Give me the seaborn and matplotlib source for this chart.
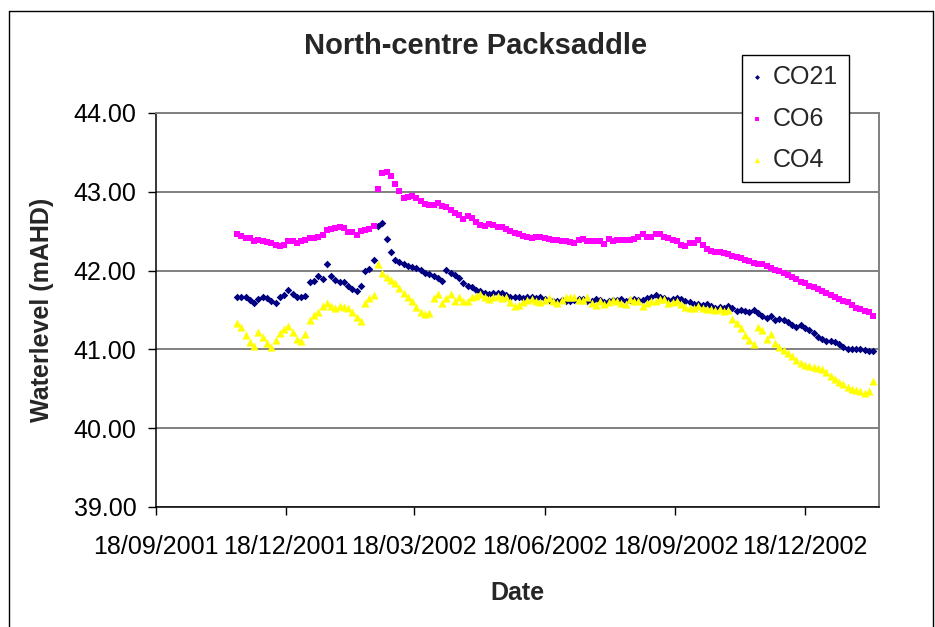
import pandas as pd
import matplotlib
matplotlib.use("Agg")
import matplotlib.pyplot as plt
import matplotlib.dates as mdates
from matplotlib.lines import Line2D
from matplotlib.ticker import FixedLocator, FormatStrFormatter
import seaborn as sns

sns.set_theme(style="white")
plt.rcParams["font.family"] = ["Liberation Sans", "DejaVu Sans"]

# Observation dates (3-day logging interval)
dates = pd.date_range("2001-11-14", periods=150, freq="3D")

co21 = [
    41.67, 41.67, 41.66, 41.63, 41.59, 41.64, 41.67, 41.65, 41.62, 41.59,
    41.67, 41.69, 41.75, 41.70, 41.67, 41.67, 41.68, 41.86, 41.87, 41.93,
    41.89, 42.08, 41.93, 41.88, 41.85, 41.85, 41.80, 41.77, 41.74, 41.80,
    42.00, 42.02, 42.13, 42.56, 42.60, 42.40, 42.24, 42.14, 42.11, 42.09,
    42.06, 42.05, 42.03, 42.01, 41.97, 41.96, 41.93, 41.91, 41.87, 42.01,
    41.97, 41.95, 41.90, 41.84, 41.81, 41.79, 41.76, 41.74, 41.72, 41.70,
    41.72, 41.72, 41.71, 41.69, 41.67, 41.66, 41.67, 41.65, 41.67, 41.66,
    41.65, 41.66, 41.64, 41.63, 41.61, 41.62, 41.63, 41.62, 41.62, 41.63,
    41.64, 41.64, 41.62, 41.61, 41.64, 41.63, 41.60, 41.61, 41.63, 41.63,
    41.64, 41.62, 41.63, 41.64, 41.63, 41.63, 41.65, 41.67, 41.69, 41.67,
    41.65, 41.63, 41.64, 41.65, 41.64, 41.62, 41.60, 41.58, 41.57, 41.56,
    41.58, 41.55, 41.53, 41.54, 41.53, 41.55, 41.52, 41.49, 41.50, 41.49,
    41.48, 41.50, 41.46, 41.42, 41.40, 41.42, 41.37, 41.38, 41.37, 41.35,
    41.31, 41.29, 41.31, 41.27, 41.24, 41.21, 41.16, 41.13, 41.11, 41.11,
    41.10, 41.07, 41.03, 41.01, 41.01, 41.00, 41.00, 40.99, 40.98, 40.98,
]

co6 = [
    42.47, 42.44, 42.42, 42.41, 42.37, 42.39, 42.37, 42.36, 42.35, 42.32,
    42.31, 42.33, 42.37, 42.37, 42.35, 42.37, 42.39, 42.41, 42.41, 42.43,
    42.45, 42.52, 42.53, 42.54, 42.55, 42.54, 42.49, 42.49, 42.45, 42.50,
    42.52, 42.53, 42.57, 43.03, 43.24, 43.25, 43.20, 43.10, 43.01, 42.92,
    42.93, 42.95, 42.92, 42.88, 42.85, 42.83, 42.83, 42.86, 42.82, 42.81,
    42.77, 42.73, 42.71, 42.66, 42.69, 42.67, 42.62, 42.58, 42.57, 42.59,
    42.58, 42.55, 42.55, 42.53, 42.50, 42.48, 42.46, 42.44, 42.43, 42.42,
    42.43, 42.43, 42.42, 42.40, 42.39, 42.39, 42.38, 42.37, 42.36, 42.35,
    42.39, 42.40, 42.38, 42.37, 42.38, 42.38, 42.34, 42.40, 42.37, 42.39,
    42.39, 42.39, 42.39, 42.40, 42.43, 42.47, 42.43, 42.43, 42.46, 42.46,
    42.43, 42.41, 42.39, 42.38, 42.33, 42.31, 42.35, 42.35, 42.39, 42.33,
    42.28, 42.25, 42.24, 42.23, 42.22, 42.21, 42.19, 42.17, 42.16, 42.14,
    42.12, 42.10, 42.09, 42.08, 42.06, 42.03, 42.01, 42.00, 41.97, 41.95,
    41.92, 41.89, 41.86, 41.84, 41.81, 41.79, 41.77, 41.74, 41.71, 41.69,
    41.67, 41.64, 41.62, 41.60, 41.56, 41.53, 41.51, 41.49, 41.47, 41.43,
]

co4 = [
    41.33, 41.29, 41.18, 41.10, 41.04, 41.22, 41.16, 41.08, 41.03, 41.12,
    41.21, 41.26, 41.30, 41.22, 41.13, 41.11, 41.20, 41.37, 41.44, 41.47,
    41.55, 41.59, 41.55, 41.53, 41.55, 41.54, 41.52, 41.48, 41.41, 41.36,
    41.59, 41.65, 41.69, 42.09, 41.97, 41.92, 41.88, 41.84, 41.78, 41.72,
    41.66, 41.61, 41.54, 41.48, 41.45, 41.46, 41.65, 41.70, 41.59, 41.65,
    41.70, 41.62, 41.66, 41.62, 41.61, 41.67, 41.68, 41.70, 41.66, 41.64,
    41.66, 41.68, 41.65, 41.66, 41.60, 41.55, 41.56, 41.60, 41.63, 41.64,
    41.62, 41.60, 41.63, 41.65, 41.62, 41.59, 41.63, 41.66, 41.67, 41.67,
    41.63, 41.63, 41.66, 41.59, 41.56, 41.61, 41.58, 41.60, 41.63, 41.62,
    41.59, 41.58, 41.64, 41.61, 41.62, 41.55, 41.59, 41.61, 41.62, 41.64,
    41.64, 41.59, 41.60, 41.61, 41.57, 41.54, 41.52, 41.53, 41.55, 41.52,
    41.51, 41.51, 41.50, 41.51, 41.49, 41.50, 41.38, 41.33, 41.27, 41.18,
    41.12, 41.07, 41.28, 41.25, 41.13, 41.19, 41.08, 41.03, 40.99, 40.96,
    40.92, 40.86, 40.83, 40.80, 40.79, 40.78, 40.77, 40.75, 40.71, 40.66,
    40.62, 40.59, 40.56, 40.52, 40.50, 40.48, 40.47, 40.45, 40.47, 40.60,
]

tick_dates = ["2001-09-18", "2001-12-18", "2002-03-18",
              "2002-06-18", "2002-09-18", "2002-12-18"]
y_ticks = [39.0, 40.0, 41.0, 42.0, 43.0, 44.0]

W, H = 935, 627
fig = plt.figure(figsize=(W / 100, H / 100), dpi=100)
ax = fig.add_axes([156 / W, 1 - 507 / H, (879 - 156) / W, (507 - 113) / H])

series = [
    ("CO21", co21, "D", "#000080", 15),
    ("CO6", co6, "s", "#FF00FF", 16),
    ("CO4", co4, "^", "#FFFF00", 34),
]
for name, vals, mk, col, size in series:
    sns.scatterplot(x=dates, y=vals, ax=ax, marker=mk, color=col, s=size,
                    linewidth=0, label=name, zorder=3)

# axes ranges and ticks
ax.set_xlim(pd.Timestamp("2001-09-18"), pd.Timestamp("2003-02-08"))
ax.set_ylim(39, 44)
ax.xaxis.set_major_locator(FixedLocator(mdates.date2num(pd.to_datetime(tick_dates))))
ax.xaxis.set_major_formatter(mdates.DateFormatter("%d/%m/%Y"))
ax.yaxis.set_major_locator(FixedLocator(y_ticks))
ax.yaxis.set_major_formatter(FormatStrFormatter("%.2f"))

ax.grid(axis="y", color="#808080", linewidth=1.4, zorder=1)
ax.grid(axis="x", visible=False)
ax.set_axisbelow(True)

for side in ("top", "right"):
    ax.spines[side].set_color("#808080")
    ax.spines[side].set_linewidth(1.4)
for side in ("left", "bottom"):
    ax.spines[side].set_color("black")
    ax.spines[side].set_linewidth(1.1)

ax.tick_params(axis="both", which="major", direction="out", length=6,
               width=1.0, color="black", labelsize=18, labelcolor="black",
               left=True, bottom=True)
ax.tick_params(axis="y", pad=8)
ax.tick_params(axis="x", pad=14)

ax.set_xlabel("Date", fontsize=18, fontweight="bold", labelpad=16)
ax.set_ylabel("Waterlevel (mAHD)", fontsize=18, fontweight="bold", labelpad=14)

fig.text(476 / W, 1 - 46 / H, "North-centre Packsaddle", fontsize=21,
         fontweight="bold", ha="center", va="center")

leg = ax.legend(loc="upper left", bbox_to_anchor=(742 / W, 1 - 55 / H),
                bbox_transform=fig.transFigure, fontsize=18, frameon=True,
                fancybox=False, framealpha=1, edgecolor="black",
                borderaxespad=0, borderpad=0.4, labelspacing=0.7,
                handlelength=0.4, handletextpad=0.45, markerscale=0.65)
leg.get_frame().set_linewidth(1.0)
leg.set_zorder(5)

# outer chart frame
fx0, fx1, fy0 = 8.5 / W, 932.5 / W, 1 - 10.5 / H
for xs, ys in (([fx0, fx0], [0, fy0]), ([fx0, fx1], [fy0, fy0]), ([fx1, fx1], [fy0, 0])):
    fig.add_artist(Line2D(xs, ys, color="black", linewidth=1.0,
                          transform=fig.transFigure))

fig.savefig("out.png", dpi=100)
